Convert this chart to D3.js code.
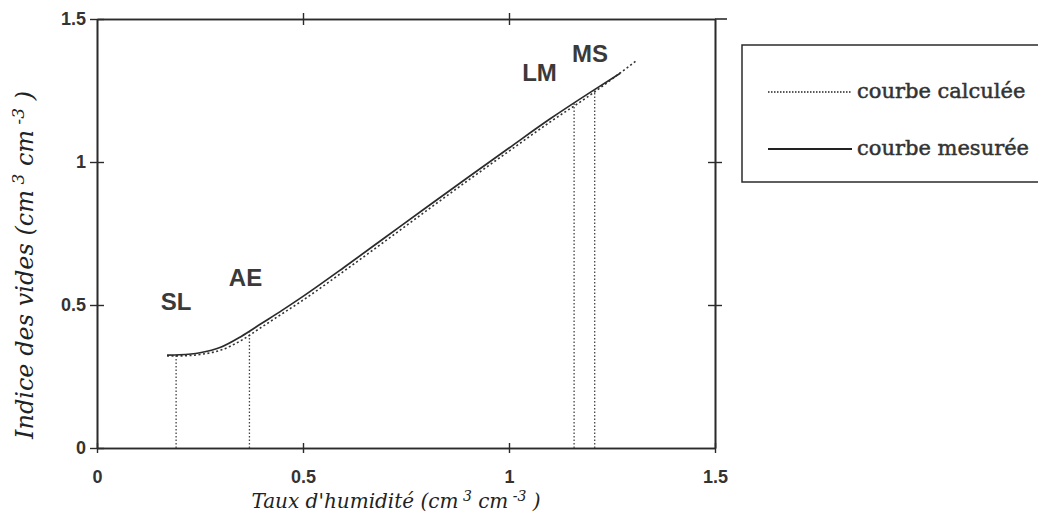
<!DOCTYPE html>
<html>
<head>
<meta charset="utf-8">
<script src="https://cdn.jsdelivr.net/npm/d3@7"></script>
<style>
  body { margin: 0; background: #fff; }
  svg { display: block; }
</style>
</head>
<body>
<svg id="chart" width="1038" height="524"></svg>
<script>
// values
const xTicks = [0, 0.5, 1, 1.5],
    yTicks = [0, 0.5, 1, 1.5];

const measuredX = [0.17, 0.20, 0.25, 0.30, 0.35, 0.40, 0.45, 0.50, 0.60, 0.70, 0.80, 0.90, 1.00, 1.10, 1.20, 1.27],
    measuredY = [0.325, 0.326, 0.333, 0.352, 0.39, 0.436, 0.482, 0.53, 0.632, 0.737, 0.842, 0.946, 1.049, 1.151, 1.246, 1.31];

const calcX = [0.17, 0.20, 0.25, 0.30, 0.35, 0.40, 0.45, 0.50, 0.60, 0.70, 0.80, 0.90, 1.00, 1.10, 1.20, 1.25, 1.31],
    calcY = [0.322, 0.322, 0.327, 0.342, 0.376, 0.423, 0.47, 0.517, 0.619, 0.724, 0.83, 0.935, 1.038, 1.14, 1.237, 1.29, 1.355];

// limit points (vertical drop lines) and their labels
const limitNames = ['SL', 'AE', 'LM', 'MS'],
    limitX = [0.192, 0.37, 1.158, 1.208],
    limitY = [0.325, 0.415, 1.205, 1.25],
    labelX = [0.155, 0.32, 1.032, 1.153],
    labelY = [0.483, 0.566, 1.283, 1.35];

const legendNames = ['courbe calculée', 'courbe mesurée'];

const svg = d3.select('#chart'),
    ink = '#2b2b2b',
    x = d3.scaleLinear().domain([0, 1.5]).range([97, 715]),
    y = d3.scaleLinear().domain([0, 1.5]).range([448, 19]);

// axes with crossing ticks: draw an outer and an inner tick set on each side
function frameAxis(axis, transform, showLabels) {
    const g = svg.append('g').attr('transform', transform).call(axis);
    g.select('.domain').attr('stroke', ink).attr('stroke-width', 1.6);
    g.selectAll('.tick line').attr('stroke', ink).attr('stroke-width', 1.4);
    if(!showLabels) {
        g.selectAll('.tick text').remove();
    }
    return g;
}

const fmt = (d) => d === 0 ? '0' : String(d);

let gx = frameAxis(d3.axisBottom(x).tickValues(xTicks).tickSize(5).tickSizeOuter(0).tickFormat(fmt), `translate(0,${y(0)})`, true);
gx.selectAll('.tick text')
    .attr('y', 35)
    .attr('dy', null)
    .attr('font-family', 'Liberation Sans, Arial, sans-serif')
    .attr('font-weight', 'bold')
    .attr('font-size', 18)
    .attr('fill', '#333');
frameAxis(d3.axisTop(x).tickValues(xTicks).tickSize(5).tickSizeOuter(0), `translate(0,${y(0)})`, false);

let gy = frameAxis(d3.axisLeft(y).tickValues(yTicks).tickSize(7).tickSizeOuter(0).tickFormat(fmt), `translate(${x(0)},0)`, true);
gy.selectAll('.tick text')
    .attr('x', -11)
    .attr('font-family', 'Liberation Sans, Arial, sans-serif')
    .attr('font-weight', 'bold')
    .attr('font-size', 18)
    .attr('fill', '#333');
frameAxis(d3.axisRight(y).tickValues(yTicks).tickSize(7).tickSizeOuter(0), `translate(${x(0)},0)`, false);

// top and right frame, with small ticks
frameAxis(d3.axisTop(x).tickValues([0.5, 1]).tickSize(6).tickSizeOuter(0), `translate(0,${y(1.5)})`, false);
frameAxis(d3.axisBottom(x).tickValues([0.5, 1]).tickSize(6).tickSizeOuter(0), `translate(0,${y(1.5)})`, false);
frameAxis(d3.axisRight(y).tickValues([0.5, 1]).tickSize(7).tickSizeOuter(0), `translate(${x(1.5)},0)`, false);
frameAxis(d3.axisLeft(y).tickValues([0.5, 1]).tickSize(7).tickSizeOuter(0), `translate(${x(1.5)},0)`, false);
svg.append('line')
    .attr('x1', x(1.5)).attr('x2', x(1.5) + 12)
    .attr('y1', y(1.5)).attr('y2', y(1.5))
    .attr('stroke', ink).attr('stroke-width', 1.6);

// drop lines
svg.append('g').selectAll('line')
    .data(limitX)
    .join('line')
    .attr('x1', (d) => x(d)).attr('x2', (d) => x(d))
    .attr('y1', y(0)).attr('y2', (d, i) => y(limitY[i]))
    .attr('stroke', '#444')
    .attr('stroke-width', 1.3)
    .attr('stroke-dasharray', '1.5,2');

const line = d3.line().curve(d3.curveMonotoneX);

svg.append('path')
    .attr('d', line(calcX.map((d, i) => [x(d), y(calcY[i])])))
    .attr('fill', 'none')
    .attr('stroke', '#333')
    .attr('stroke-width', 1.6)
    .attr('stroke-dasharray', '2,2.5');

svg.append('path')
    .attr('d', line(measuredX.map((d, i) => [x(d), y(measuredY[i])])))
    .attr('fill', 'none')
    .attr('stroke', ink)
    .attr('stroke-width', 1.7);

svg.append('g').selectAll('text')
    .data(limitNames)
    .join('text')
    .attr('x', (d, i) => x(labelX[i]))
    .attr('y', (d, i) => y(labelY[i]))
    .attr('font-family', 'Liberation Sans, Arial, sans-serif')
    .attr('font-weight', 'bold')
    .attr('font-size', 24)
    .attr('fill', '#3a3a3a')
    .text((d) => d);

// axis titles, italic serif with superscripts
const title = (g, size, parts) => {
    const t = g.append('text')
        .attr('font-family', 'DejaVu Serif, serif')
        .attr('font-style', 'italic')
        .attr('font-size', size)
        .attr('fill', '#222')
        .attr('text-anchor', 'middle');
    const rise = Math.round(size * 0.36);
    parts.forEach(([s, sup]) => {
        t.append('tspan')
            .attr('dy', sup === 1 ? -rise : sup === -1 ? rise : 0)
            .attr('font-size', sup === 1 ? Math.round(size * 0.7) : size)
            .text(s);
    });
    return t;
};

title(svg.append('g').attr('transform', `translate(${(x(0) + x(1.5)) / 2 - 10},508)`), 20,
    [["Taux d'humidité (cm", 0], [' 3', 1], [' cm', -1], [' -3', 1], [' )', -1]]);

title(svg.append('g').attr('transform', `translate(33,265) rotate(-90)`), 24,
    [['Indice des vides (cm', 0], [' 3', 1], [' cm', -1], [' -3', 1], [' )', -1]]);

// legend box, running off the right edge
const legend = svg.append('g').attr('transform', 'translate(742,45)');
legend.append('path')
    .attr('d', 'M300,0 H0 V137 H300')
    .attr('fill', 'none')
    .attr('stroke', ink)
    .attr('stroke-width', 1.5);

legend.selectAll('g')
    .data(legendNames)
    .join('g')
    .attr('transform', (d, i) => `translate(0,${47 + i * 57})`)
    .each(function(d, i) {
        const g = d3.select(this);
        g.append('line')
            .attr('x1', 26).attr('x2', 110)
            .attr('stroke', '#222')
            .attr('stroke-width', i === 0 ? 1.3 : 1.8)
            .attr('stroke-dasharray', i === 0 ? '1.5,1.5' : null);
        g.append('text')
            .attr('x', 115)
            .attr('dy', '0.3em')
            .attr('font-family', 'DejaVu Serif, serif')
            .attr('font-size', 21)
            .attr('stroke', '#333')
            .attr('stroke-width', 0.5)
            .attr('fill', '#333')
            .text(d);
    });
</script>
</body>
</html>
